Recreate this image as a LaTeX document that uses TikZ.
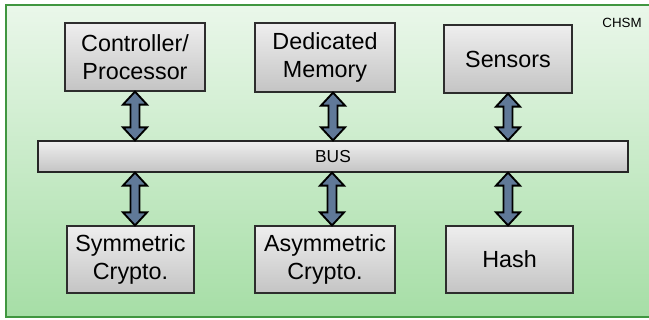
\documentclass[tikz,border=0pt]{standalone}
\usepackage{fontspec}
\setmainfont{Liberation Sans}
\usetikzlibrary{calc}

\definecolor{panelTop}{RGB}{234,247,234}
\definecolor{panelBottom}{RGB}{166,222,166}
\definecolor{panelLine}{RGB}{64,150,64}
\definecolor{boxTop}{RGB}{238,238,238}
\definecolor{boxBottom}{RGB}{196,196,196}
\definecolor{boxLine}{RGB}{45,45,45}
\definecolor{arrowFill}{RGB}{96,121,152}

\tikzset{
  unit/.style={draw=boxLine, line width=0.9pt, top color=boxTop, bottom color=boxBottom,
    align=center, inner sep=0pt, text=black,
    font=\fontsize{17.5}{20.5}\selectfont},
  busbar/.style={draw=black!85, line width=0.9pt, top color=boxTop, bottom color=boxBottom,
    inner sep=0pt, font=\fontsize{13}{15}\selectfont},
  busarr/.style={draw=black, line width=1.4pt, fill=arrowFill, line join=miter},
}

% vertical two-headed arrow at x = #1 between anchors #2 (top) and #3 (bottom)
\newcommand\busarrow[3]{%
  \draw[busarr] let \p1=(#2), \p2=(#3), \p0=(#1,0) in
    (\x0,\y1) -- (\x0+9.0pt,\y1-9.75pt) -- (\x0+3.4pt,\y1-9.75pt)
    -- (\x0+3.4pt,\y2+9.75pt) -- (\x0+9.0pt,\y2+9.75pt) -- (\x0,\y2)
    -- (\x0-9.0pt,\y2+9.75pt) -- (\x0-3.4pt,\y2+9.75pt)
    -- (\x0-3.4pt,\y1-9.75pt) -- (\x0-9.0pt,\y1-9.75pt) -- cycle;}

\begin{document}
\begin{tikzpicture}[x=0.75pt, y=-0.75pt]
  \useasboundingbox (0,0) rectangle (649,320);

  % module panel
  \path[top color=panelTop, bottom color=panelBottom] (6,5) rectangle (655,317);
  \draw[panelLine, line width=1.1pt] (655,5) -- (6,5) -- (6,317) -- (655,317);
  \node[font=\fontsize{10}{12}\selectfont, text=black] (chsm) at (622,23) {CHSM};

  % shared bus
  \node[busbar, minimum width=442.5pt, minimum height=23.25pt] (bus) at (333,156.5) {BUS};

  % units above the bus
  \node[unit, minimum width=105pt, minimum height=51pt] (ctrl) at (135,57) {Controller/\\Processor};
  \node[unit, minimum width=105pt, minimum height=51.75pt] (mem) at (325,57.5) {Dedicated\\Memory};
  \node[unit, minimum width=96pt, minimum height=51pt] (sens) at (508,59) {Sensors};

  % units below the bus
  \node[unit, minimum width=95.25pt, minimum height=50.25pt] (sym) at (130.5,259.5) {Symmetric\\Crypto.};
  \node[unit, minimum width=105pt, minimum height=50.25pt] (asym) at (325,259.5) {Asymmetric\\Crypto.};
  \node[unit, minimum width=95.25pt, minimum height=50.25pt] (hash) at (509.5,259.5) {Hash};

  % links to the bus
  \busarrow{135}{ctrl.south}{bus.north}
  \busarrow{333}{mem.south}{bus.north}
  \busarrow{508}{sens.south}{bus.north}
  \busarrow{135}{bus.south}{sym.north}
  \busarrow{332}{bus.south}{asym.north}
  \busarrow{508}{bus.south}{hash.north}
\end{tikzpicture}
\end{document}
